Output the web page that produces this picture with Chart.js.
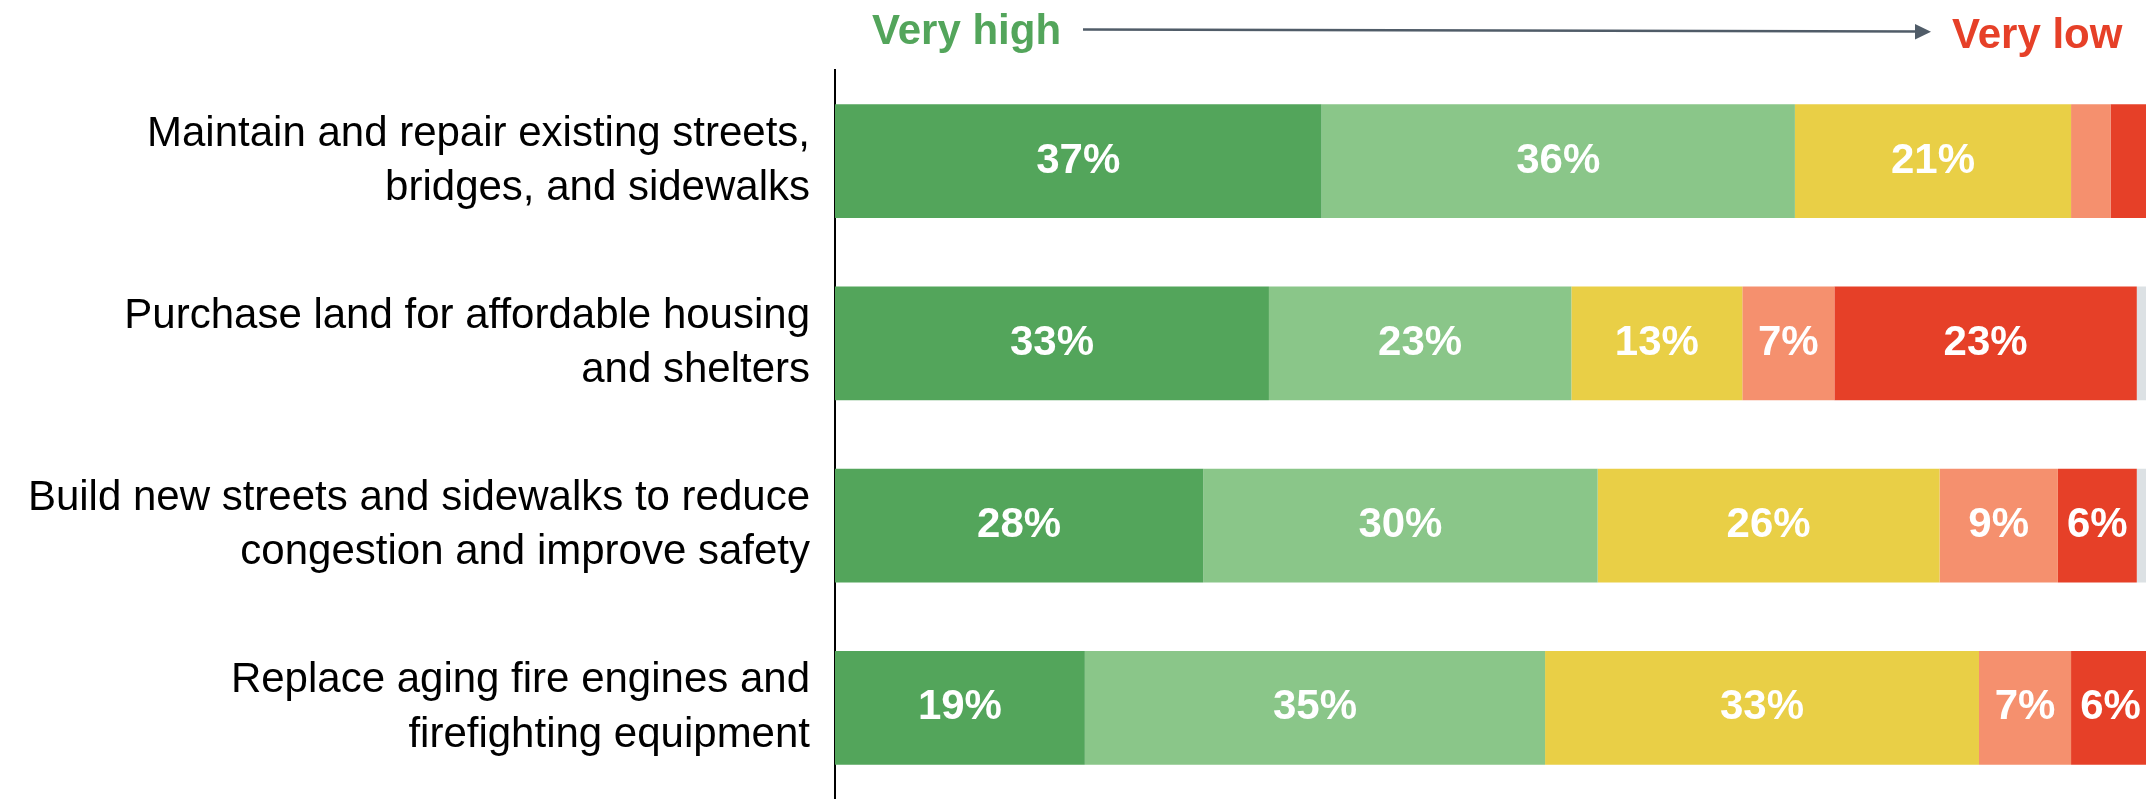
<!DOCTYPE html>
<html>
<head>
<meta charset="utf-8">
<script src="https://cdn.jsdelivr.net/npm/chart.js@4.4.1/dist/chart.umd.min.js"></script>
<style>
  html, body { margin: 0; padding: 0; background: #fff; }
  #wrap { width: 2146px; height: 799px; position: relative; }
</style>
</head>
<body>
<div id="wrap"><canvas id="priorityChart"></canvas></div>
<script>
var categories = [
  ['Maintain and repair existing streets,', 'bridges, and sidewalks'],
  ['Purchase land for affordable housing', 'and shelters'],
  ['Build new streets and sidewalks to reduce', 'congestion and improve safety'],
  ['Replace aging fire engines and', 'firefighting equipment']
];
var veryHigh = [37, 33, 28, 19];
var high     = [36, 23, 30, 35];
var medium   = [21, 13, 26, 33];
var low      = [3, 7, 9, 7];
var veryLow  = [3, 23, 6, 6];
var noAnswer = [1, 1, 1, 1];

var FONT = "'Liberation Sans', Arial, Helvetica, sans-serif";

// white percentage labels in the middle of each segment
var segmentLabels = {
  id: 'segmentLabels',
  afterDatasetsDraw: function(chart) {
    var ctx = chart.ctx;
    ctx.save();
    ctx.font = 'bold 42px ' + FONT;
    ctx.fillStyle = '#ffffff';
    ctx.textAlign = 'center';
    ctx.textBaseline = 'middle';
    chart.data.datasets.forEach(function(ds, i) {
      if (ds.noLabels) return;
      chart.getDatasetMeta(i).data.forEach(function(bar, j) {
        var v = ds.data[j];
        if (v < 5) return;
        var cx = (bar.x + bar.base) / 2;
        ctx.fillText(v + '%', cx, bar.y);
      });
    });
    ctx.restore();
  }
};

// "Very high ---> Very low" header above the bars
var scaleHeader = {
  id: 'scaleHeader',
  afterDraw: function(chart) {
    var ctx = chart.ctx;
    ctx.save();
    ctx.font = 'bold 42px ' + FONT;
    ctx.textBaseline = 'alphabetic';
    ctx.textAlign = 'left';
    ctx.fillStyle = '#53a55b';
    ctx.fillText('Very high', 872, 44);
    ctx.fillStyle = '#e64028';
    ctx.fillText('Very low', 1952, 48);

    ctx.strokeStyle = '#505c68';
    ctx.fillStyle = '#505c68';
    ctx.lineWidth = 2.5;
    ctx.beginPath();
    ctx.moveTo(1083, 29.5);
    ctx.lineTo(1918, 31.5);
    ctx.stroke();
    ctx.beginPath();
    ctx.moveTo(1915, 24);
    ctx.lineTo(1931, 31.7);
    ctx.lineTo(1915, 39.5);
    ctx.closePath();
    ctx.fill();
    ctx.restore();
  }
};

function series(label, data, color, noLabels) {
  return {
    label: label,
    data: data,
    backgroundColor: color,
    borderWidth: 0,
    barPercentage: 0.625,
    categoryPercentage: 1.0,
    noLabels: !!noLabels
  };
}

var ctx = document.getElementById('priorityChart').getContext('2d');
var priorityChart = new Chart(ctx, {
  type: 'bar',
  data: {
    labels: categories,
    datasets: [
      series('Very high', veryHigh, '#53a55b'),
      series('High', high, '#8ac689'),
      series('Medium', medium, '#e9cf46'),
      series('Low', low, '#f5906e'),
      series('Very low', veryLow, '#e64028'),
      series('No answer', noAnswer, '#dce1e4', true)
    ]
  },
  options: {
    indexAxis: 'y',
    responsive: true,
    maintainAspectRatio: false,
    animation: false,
    layout: { padding: { top: 70, right: 0, bottom: 0, left: 0 } },
    plugins: {
      legend: { display: false },
      tooltip: { enabled: false },
      title: { display: false }
    },
    scales: {
      x: {
        stacked: true,
        display: false,
        min: 0,
        max: 99.7
      },
      y: {
        stacked: true,
        grid: { display: false, drawTicks: false },
        border: { display: true, color: '#000000', width: 2 },
        ticks: {
          color: '#000000',
          padding: 25,
          font: { family: FONT, size: 42, lineHeight: 1.29 }
        },
        afterFit: function(scale) {
          // labels sit inside their bands, so no extra room above/below is needed
          scale.width = 835;
          scale.paddingTop = 0;
          scale.paddingBottom = 0;
        }
      }
    }
  },
  plugins: [segmentLabels, scaleHeader]
});
</script>
</body>
</html>
